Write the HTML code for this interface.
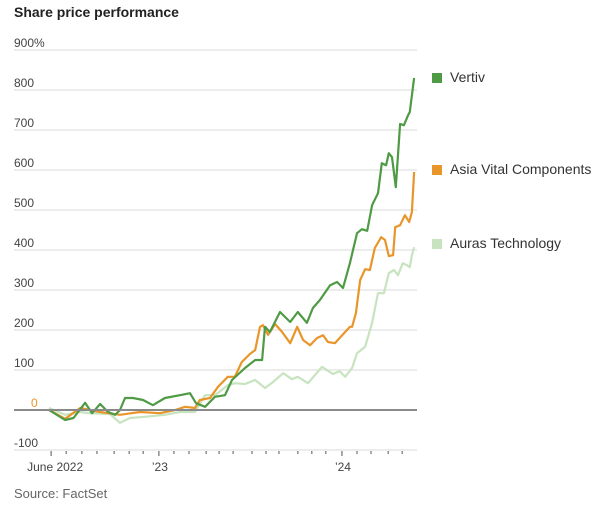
<!DOCTYPE html>
<html><head><meta charset="utf-8"><style>
body{margin:0;background:#fff;font-family:"Liberation Sans",sans-serif;}
</style></head><body>
<svg width="607" height="508" viewBox="0 0 607 508" xmlns="http://www.w3.org/2000/svg">
<text x="14" y="17" font-size="14" font-weight="bold" fill="#222">Share price performance</text>
<g id="grid"></g>
<g id="ylabels"></g>
<g id="xaxis"></g>
<g id="series"></g>
<g>
<rect x="432" y="73" width="10" height="10" fill="#4f9a44"/>
<text x="450" y="82" font-size="14" fill="#333">Vertiv</text>
<rect x="432" y="165" width="10" height="10" fill="#e8952a"/>
<text x="450" y="174" font-size="14" fill="#333">Asia Vital Components</text>
<rect x="432" y="239" width="10" height="10" fill="#c7e3bf"/>
<text x="450" y="248" font-size="14" fill="#333">Auras Technology</text>
</g>
<text x="14" y="498" font-size="13" fill="#666">Source: FactSet</text>
</svg>
<script>
const yTicks=[900,800,700,600,500,400,300,200,100,0,-100];
const yTickLabels=["900%","800","700","600","500","400","300","200","100","0","-100"];
const xTickWeeks=[0.6,4.9,9.4,13.7,18.6,22.9,26.9,31.4,35.7,40,44.9,48.6,52.6,58,62,65.7,71.1,75.1,79.1,83.7,88,92,96.9,100.9];
const xLabelWeeks=[0.6,31.4,83.7];
const xLabels=["June 2022","\u201923","\u201924"];
const vertivW=[0,4.6,7,10.3,12.3,14.6,16.9,18.9,20.3,21.7,24,26.9,29.7,33.1,37.4,40.3,42,44.6,47.4,50.3,52.3,56,58.9,60.9,61.7,63.1,66,68.9,71.1,73.7,75.4,77.4,80.3,82.3,84,86,88,89.4,90.9,92.3,94,95.1,96.3,97.1,98,99.1,100.3,101.4,102.6,103.1,104.3];
const vertivV=[0,-25,-20,18,-8,15,-5,-12,0,30,30,25,12,30,37,42,17,8,33,37,75,105,125,125,208,195,245,220,245,218,255,275,312,320,305,368,442,452,448,512,542,617,612,642,632,557,715,712,737,745,830];
const avcW=[0,4.6,8.9,14.6,20.3,26,31.7,36,38.9,41.7,43.1,46,48.3,51.1,53.1,55.1,57.4,58.9,60.3,61.1,62.6,64.6,66.6,68.9,70.9,72.6,74.6,76.6,78.3,79.7,81.7,84.6,86,86.6,87.7,88.9,90.3,91.7,93.1,94.9,96,97.1,98.3,98.9,100.3,101.7,102.9,103.7,104.3];
const avcV=[0,-22,5,-5,-12,-5,-8,0,8,5,25,30,58,83,83,120,140,150,208,212,188,215,195,167,208,175,162,180,187,170,167,195,208,208,242,325,352,350,405,432,425,385,387,457,462,487,470,495,595];
const aurasW=[0,4.6,8.9,11.7,17.4,20.3,23.1,27.4,33.1,37.4,41.7,44.6,47.4,51.1,53.1,56,58.9,61.7,64,66.9,69.4,71.1,74,78,81.1,83.1,84.6,86.6,88,90.3,92.3,94,95.7,97.1,98.6,99.7,101.1,102.3,103.1,103.7,104.3];
const aurasV=[5,-12,-5,-8,-10,-32,-20,-17,-12,-5,-5,37,37,62,67,65,75,55,70,92,77,83,67,108,90,97,83,105,142,158,218,292,292,342,350,337,367,362,357,387,407];
const NS="http://www.w3.org/2000/svg";
function xS(w){return 49+w*3.5;}
function yS(v){return 410-v*0.4;}
function mk(tag,attrs,parent){const e=document.createElementNS(NS,tag);for(const k in attrs)e.setAttribute(k,attrs[k]);parent.appendChild(e);return e;}
const grid=document.getElementById('grid'),yl=document.getElementById('ylabels'),xa=document.getElementById('xaxis'),ser=document.getElementById('series');
yTicks.forEach((t,i)=>{
  if(t!==0){const l=mk('line',{x1:14,x2:417,y1:yS(t),y2:yS(t),stroke:'#ececec','stroke-width':2},grid);
  
  }
  const tx=mk('text',{x:t===0?31:14,y:yS(t)-3,'font-size':12,fill:t===0?'#e8952a':'#444'},yl);
  tx.textContent=yTickLabels[i];
  
  
});
xTickWeeks.forEach(w=>{
  const big=xLabelWeeks.includes(w);
  const l=mk('line',{x1:xS(w),x2:xS(w),y1:451,y2:big?456:454,stroke:'#555','stroke-width':1},xa);
  
  
});
xLabels.forEach((s,i)=>{
  const x=xS(xLabelWeeks[i]);
  const tx=mk('text',{x:i===0?x-24:x-7,y:471,'font-size':12,fill:'#444'},xa);
  tx.textContent=s;
  
  
});
function line(ws,vs,col,name){
  const d=ws.map((w,i)=>(i?'L':'M')+xS(w).toFixed(1)+','+yS(vs[i]).toFixed(1)).join('');
  const p=mk('path',{d:d,fill:'none',stroke:col,'stroke-width':2.2,'stroke-linejoin':'round'},ser);
  
  
}
line(aurasW,aurasV,'#c7e3bf','line-auras-technology');
line(avcW,avcV,'#e8952a','line-asia-vital-components');
line(vertivW,vertivV,'#4f9a44','line-vertiv');
const z=mk('line',{x1:14,x2:417,y1:yS(0),y2:yS(0),stroke:'#8a8a8a','stroke-width':2},ser);


</script>
</body></html>
